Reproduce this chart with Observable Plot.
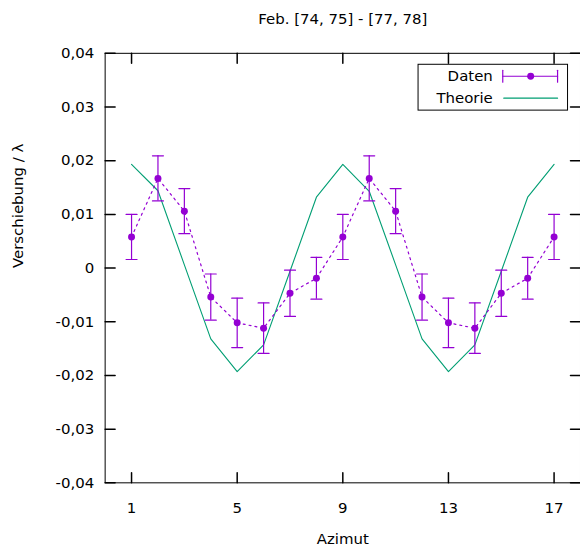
<!DOCTYPE html>
<html><head><meta charset="utf-8">
<script src="https://cdn.jsdelivr.net/npm/d3@7"></script>
<script src="https://cdn.jsdelivr.net/npm/@observablehq/plot@0.6"></script>
<style>html,body{margin:0;padding:0;overflow:hidden;background:#fff;} svg{display:block;}</style>
</head><body><div id="chart"></div>
<script>
const titel = "Feb. [74, 75] - [77, 78]";
const xLabel = "Azimut";
const yLabel = "Verschiebung / λ";
const serien = ["Daten", "Theorie"];
const azimut = [1, 2, 3, 4, 5, 6, 7, 8, 9, 10, 11, 12, 13, 14, 15, 16, 17];
const daten = [0.0058, 0.0167, 0.0106, -0.0054, -0.0102, -0.0112, -0.0047, -0.0019, 0.0058, 0.0167, 0.0106, -0.0054, -0.0102, -0.0112, -0.0047, -0.0019, 0.0058];
const fehler = [0.0042, 0.0042, 0.0042, 0.0043, 0.0046, 0.0047, 0.0043, 0.0039, 0.0042, 0.0042, 0.0042, 0.0043, 0.0046, 0.0047, 0.0043, 0.0039, 0.0042];
const theorie = [0.0193, 0.0144, 0.0006, -0.0132, -0.0193, -0.0143, -0.0006, 0.0132, 0.0193, 0.0143, 0.0006, -0.0132, -0.0193, -0.0143, -0.0006, 0.0132, 0.0193];
const yTicks = [-0.04, -0.03, -0.02, -0.01, 0, 0.01, 0.02, 0.03, 0.04];
const xTicks = [1, 5, 9, 13, 17];

const violett = "#9400d3";
const gruen = "#009e73";

const dat = azimut.map((a, i) => ({x: a, y: daten[i], e: fehler[i], t: theorie[i]}));
const fmt = d => d === 0 ? "0" : d3.format(".2f")(d).replace(".", ",").replace("−", "-");

const shapeRight = {draw(c, l) { c.moveTo(0, 0); c.lineTo(l, 0); }};
const shapeLeft = {draw(c, l) { c.moveTo(0, 0); c.lineTo(-l, 0); }};
const shapeUp = {draw(c, l) { c.moveTo(0, 0); c.lineTo(0, -l); }};
const shapeDown = {draw(c, l) { c.moveTo(0, 0); c.lineTo(0, l); }};
const shapeCapH = {draw(c, l) { c.moveTo(-l / 2, 0); c.lineTo(l / 2, 0); }};
const shapeCapV = {draw(c, l) { c.moveTo(0, -l / 2); c.lineTo(0, l / 2); }};

const chart = Plot.plot({
  width: 582,
  height: 551,
  marginLeft: 105,
  marginRight: 0,
  marginTop: 53,
  marginBottom: 67,
  style: {fontFamily: "DejaVu Sans", fontSize: "15px", background: "white", color: "black"},
  x: {domain: [0, 18]},
  y: {domain: [-0.04, 0.04]},
  marks: [
    // ticks (inward, mirrored)
    Plot.vector(yTicks, {y: d => d, frameAnchor: "left", length: 10, anchor: "start", shape: shapeRight, stroke: "black"}),
    Plot.vector(yTicks, {y: d => d, frameAnchor: "right", length: 10, anchor: "start", shape: shapeLeft, stroke: "black"}),
    Plot.vector(xTicks, {x: d => d, frameAnchor: "bottom", length: 10, anchor: "start", shape: shapeUp, stroke: "black"}),
    Plot.vector(xTicks, {x: d => d, frameAnchor: "top", length: 10, anchor: "start", shape: shapeDown, stroke: "black"}),
    Plot.axisY(yTicks, {anchor: "left", tickSize: 0, tickPadding: 11, tickFormat: fmt, label: null}),
    Plot.axisX(xTicks, {anchor: "bottom", tickSize: 0, tickPadding: 20, tickFormat: d => String(d), label: null}),
    // theory
    Plot.line(dat, {x: "x", y: "t", stroke: gruen, strokeWidth: 1.1}),
    // data
    Plot.line(dat, {x: "x", y: "y", stroke: violett, strokeWidth: 1.2, strokeDasharray: "2,4"}),
    Plot.ruleX(dat, {x: "x", y1: d => d.y - d.e, y2: d => d.y + d.e, stroke: violett, strokeWidth: 1.2}),
    Plot.vector(dat, {x: "x", y: d => d.y + d.e, length: 11, anchor: "start", shape: shapeCapH, stroke: violett, strokeWidth: 1.2}),
    Plot.vector(dat, {x: "x", y: d => d.y - d.e, length: 11, anchor: "start", shape: shapeCapH, stroke: violett, strokeWidth: 1.2}),
    Plot.dot(dat, {x: "x", y: "y", r: 3.5, fill: violett, stroke: "none"}),
    // legend
    Plot.frame({insetLeft: 314, insetRight: 13, insetTop: 11, insetBottom: 374, fill: "white", stroke: "black"}),
    Plot.text([serien[0]], {frameAnchor: "top-right", dx: -88, dy: 23, textAnchor: "end", lineAnchor: "middle", text: d => d}),
    Plot.text([serien[1]], {frameAnchor: "top-right", dx: -88, dy: 45, textAnchor: "end", lineAnchor: "middle", text: d => d}),
    Plot.vector([0], {frameAnchor: "top-right", dx: -78, dy: 23, length: 55, anchor: "start", shape: shapeRight, stroke: violett, strokeWidth: 1.2}),
    Plot.vector([0], {frameAnchor: "top-right", dx: -78, dy: 23, length: 12, anchor: "start", shape: shapeCapV, stroke: violett, strokeWidth: 1.2}),
    Plot.vector([0], {frameAnchor: "top-right", dx: -23, dy: 23, length: 12, anchor: "start", shape: shapeCapV, stroke: violett, strokeWidth: 1.2}),
    Plot.dot([0], {frameAnchor: "top-right", dx: -50, dy: 23, r: 3.5, fill: violett}),
    Plot.vector([0], {frameAnchor: "top-right", dx: -77, dy: 45, length: 54, anchor: "start", shape: shapeRight, stroke: gruen, strokeWidth: 1.1}),
    // titles
    Plot.text([titel], {frameAnchor: "top", dy: -34, lineAnchor: "middle", text: d => d}),
    Plot.text([xLabel], {frameAnchor: "bottom", dy: 57, lineAnchor: "middle", text: d => d}),
    Plot.text([yLabel], {frameAnchor: "left", dx: -87, rotate: -90, lineAnchor: "middle", text: d => d}),
    Plot.frame({stroke: "black"})
  ]
});
document.getElementById("chart").appendChild(chart);
</script>
</body></html>
